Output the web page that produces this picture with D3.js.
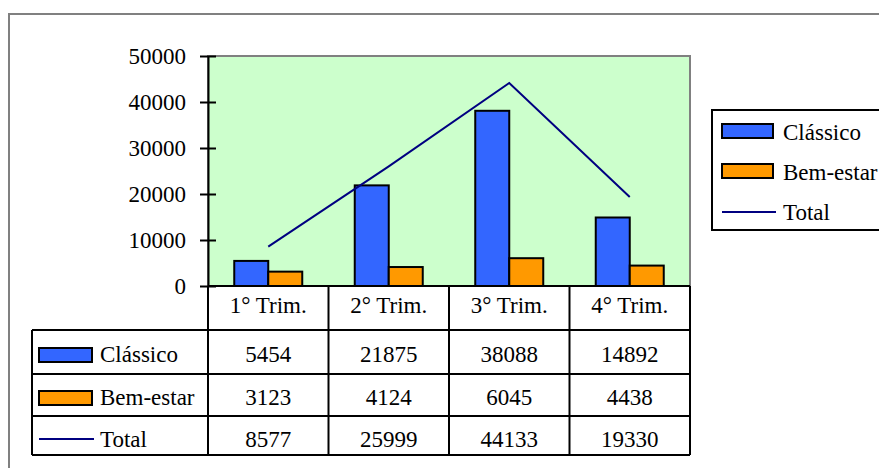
<!DOCTYPE html>
<html>
<head>
<meta charset="utf-8">
<script src="https://cdn.jsdelivr.net/npm/d3@7"></script>
<style>
  html, body { margin: 0; padding: 0; background: #fff; }
  svg { display: block; }
  svg text { font-family: 'Liberation Serif', 'Times New Roman', Times, 'DejaVu Serif', serif; }
</style>
</head>
<body>
<svg id="chart" width="879" height="468"></svg>
<script>
// Quarterly sales by product line
const categories = ["1° Trim.", "2° Trim.", "3° Trim.", "4° Trim."];
const seriesNames = ["Clássico", "Bem-estar"];
const classico = [5454, 21875, 38088, 14892];
const bemEstar = [3123, 4124, 6045, 4438];
const total = [8577, 25999, 44133, 19330];
const yTicks = [0, 10000, 20000, 30000, 40000, 50000];

const colors = { "Clássico": "#3366FF", "Bem-estar": "#FF9900", "Total": "#000080" };
const fontSize = 23;
const serif = "'Liberation Serif', 'Times New Roman', Times, 'DejaVu Serif', serif";

const svg = d3.select("#chart");

// outer chart frame (runs off the right and bottom)
svg.append("rect")
  .attr("x", 9).attr("y", 14).attr("width", 900).attr("height", 500)
  .attr("fill", "#fff").attr("stroke", "#808080").attr("stroke-width", 2);

const plot = { left: 208, right: 690, top: 56, bottom: 286 };

const x0 = d3.scaleBand().domain(categories).range([plot.left, plot.right]).padding(0);
const x1 = d3.scaleBand().domain(seriesNames).range([0, x0.bandwidth()])
  .paddingInner(0).paddingOuter(0.772);
const y = d3.scaleLinear().domain([0, 50000]).range([plot.bottom, plot.top]);

// plot background
svg.append("rect")
  .attr("x", plot.left).attr("y", plot.top)
  .attr("width", plot.right - plot.left).attr("height", plot.bottom - plot.top)
  .attr("fill", "#CCFFCC").attr("stroke", "#808080").attr("stroke-width", 2);

// bars
const rows = categories.map((c, i) => ({ cat: c, values: [
  { name: "Clássico", v: classico[i] },
  { name: "Bem-estar", v: bemEstar[i] }
]}));

const groups = svg.append("g").selectAll("g").data(rows).join("g")
  .attr("transform", d => `translate(${x0(d.cat)},0)`);
groups.selectAll("rect").data(d => d.values).join("rect")
  .attr("x", d => x1(d.name))
  .attr("y", d => y(d.v))
  .attr("width", x1.bandwidth())
  .attr("height", d => y(0) - y(d.v))
  .attr("fill", d => colors[d.name])
  .attr("stroke", "#000").attr("stroke-width", 2);

// total line
const line = d3.line()
  .x((d, i) => x0(categories[i]) + x0.bandwidth() / 2)
  .y(d => y(d));
svg.append("path").datum(total)
  .attr("d", line).attr("fill", "none")
  .attr("stroke", colors["Total"]).attr("stroke-width", 2);

// y axis
const yAxis = d3.axisLeft(y).tickValues(yTicks).tickFormat(d3.format("d"))
  .tickSizeInner(8).tickSizeOuter(0).tickPadding(14);
const yg = svg.append("g").attr("transform", `translate(${plot.left},0)`).call(yAxis)
  .attr("font-family", null).attr("font-size", null);
yg.select(".domain").attr("stroke", "#000").attr("stroke-width", 2);
yg.selectAll(".tick line").attr("x1", -8).attr("x2", 8).attr("stroke", "#000").attr("stroke-width", 2);
yg.selectAll(".tick text")
  .style("font-family", serif)
  .style("font-size", fontSize + "px").attr("fill", "#000");

// data table
const table = { left: 32, header: 286, rowLines: [330, 374, 416, 455] };
const tg = svg.append("g").attr("stroke", "#000").attr("stroke-width", 2).attr("fill", "none");
// horizontal lines
tg.append("line").attr("x1", plot.left).attr("x2", plot.right).attr("y1", table.header).attr("y2", table.header);
table.rowLines.forEach(ly => {
  tg.append("line").attr("x1", table.left).attr("x2", plot.right).attr("y1", ly).attr("y2", ly);
});
// vertical lines
tg.append("line").attr("x1", table.left).attr("x2", table.left).attr("y1", table.rowLines[0]).attr("y2", table.rowLines[3]);
categories.forEach(c => {
  tg.append("line").attr("x1", x0(c)).attr("x2", x0(c)).attr("y1", table.header).attr("y2", table.rowLines[3]);
});
tg.append("line").attr("x1", plot.right).attr("x2", plot.right).attr("y1", table.header).attr("y2", table.rowLines[3]);

const txt = svg.append("g").attr("fill", "#000");
function label(sel) {
  return sel.style("font-family", serif).style("font-size", fontSize + "px");
}
// header labels
txt.selectAll(".hdr").data(categories).join("text")
  .attr("x", d => x0(d) + x0.bandwidth() / 2).attr("y", 313)
  .attr("text-anchor", "middle").text(d => d).call(label);

const tableRows = [
  { name: "Clássico", values: classico, base: 362, kind: "rect" },
  { name: "Bem-estar", values: bemEstar, base: 405, kind: "rect" },
  { name: "Total", values: total, base: 447, kind: "line" }
];
tableRows.forEach(r => {
  r.values.forEach((v, i) => {
    txt.append("text")
      .attr("x", x0(categories[i]) + x0.bandwidth() / 2).attr("y", r.base)
      .attr("text-anchor", "middle").text(v).call(label);
  });
  const cy = r.base - 7;
  if (r.kind === "rect") {
    svg.append("rect").attr("x", 39).attr("y", cy - 7).attr("width", 53).attr("height", 14)
      .attr("fill", colors[r.name]).attr("stroke", "#000").attr("stroke-width", 2);
  } else {
    svg.append("line").attr("x1", 39).attr("x2", 94).attr("y1", cy - 1).attr("y2", cy - 1)
      .attr("stroke", colors[r.name]).attr("stroke-width", 2);
  }
  txt.append("text").attr("x", 100).attr("y", r.base).text(r.name).call(label);
});

// legend
const lg = svg.append("g");
lg.append("rect").attr("x", 712).attr("y", 110).attr("width", 200).attr("height", 120)
  .attr("fill", "#fff").attr("stroke", "#000").attr("stroke-width", 2);
const legendItems = [
  { name: "Clássico", base: 140, kind: "rect" },
  { name: "Bem-estar", base: 180, kind: "rect" },
  { name: "Total", base: 220, kind: "line" }
];
legendItems.forEach(it => {
  const cy = it.base - 9;
  if (it.kind === "rect") {
    lg.append("rect").attr("x", 722).attr("y", cy - 7).attr("width", 51).attr("height", 14)
      .attr("fill", colors[it.name]).attr("stroke", "#000").attr("stroke-width", 2);
  } else {
    lg.append("line").attr("x1", 722).attr("x2", 776).attr("y1", cy + 1).attr("y2", cy + 1)
      .attr("stroke", colors[it.name]).attr("stroke-width", 2);
  }
  lg.append("text").attr("x", 783).attr("y", it.base)
    .attr("fill", "#000").text(it.name).call(label);
});
</script>
</body>
</html>
